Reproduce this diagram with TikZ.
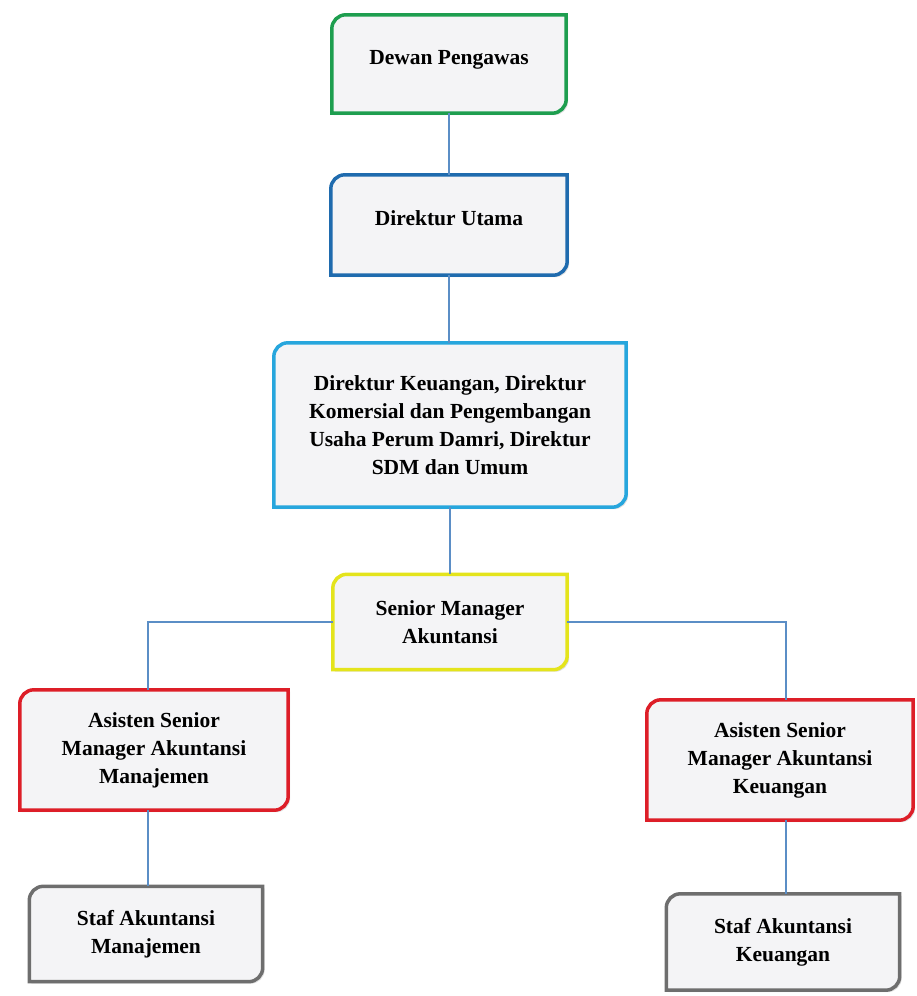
\documentclass[tikz,border=0pt]{standalone}
\usepackage{fontspec}
\setmainfont{Liberation Serif}
\usetikzlibrary{%
  calc,%
  backgrounds,%
  shadows%
}
\definecolor{boxfill}{HTML}{F4F4F6}
\definecolor{framegreen}{HTML}{1E9E4F}
\definecolor{frameblue}{HTML}{1F6BAE}
\definecolor{framecyan}{HTML}{27A6DD}
\definecolor{frameyellow}{HTML}{E4E41C}
\definecolor{framered}{HTML}{DD1E28}
\definecolor{framegray}{HTML}{6E6E6E}
\definecolor{linkblue}{HTML}{5B8EC6}
\tikzset{
  unit/.style 2 args={minimum width=#1,minimum height=#2,inner sep=4pt,
    align=center,font=\fontsize{21.5}{28}\selectfont\bfseries},
  lifted/.style={text depth=13pt},
  link/.style={line width=1.5pt,linkblue}
}
\newcommand{\orgframe}[2]{%
  \draw[line width=3.5pt,#2,fill=boxfill,
    drop shadow={opacity=0.25,shadow xshift=2pt,shadow yshift=-2pt}]
    ($(#1.north west)+(0,-14pt)$) arc[start angle=180,end angle=90,radius=14pt]
    -- (#1.north east) -- ($(#1.south east)+(0,14pt)$)
    arc[start angle=0,end angle=-90,radius=14pt] -- (#1.south west) -- cycle;}

\begin{document}
\begin{tikzpicture}[x=1pt,y=-1pt]
  \useasboundingbox (0,0) rectangle (917,996);
  \node[unit={234pt}{98pt},lifted] (dewan) at (449,64) {Dewan Pengawas};
  \node[unit={236pt}{100pt},lifted] (utama) at (449,225) {Direktur Utama};
  \node[unit={352pt}{164pt}] (direksi) at (450,425) {Direktur Keuangan, Direktur\\
    Komersial dan Pengembangan\\ Usaha Perum Damri, Direktur\\ SDM dan Umum};
  \node[unit={234pt}{95pt}] (senior) at (450,622) {Senior Manager\\ Akuntansi};
  \node[unit={268pt}{120pt}] (asmen) at (154,750) {Asisten Senior\\
    Manager Akuntansi\\ Manajemen};
  \node[unit={266pt}{120pt}] (askeu) at (780,760) {Asisten Senior\\
    Manager Akuntansi\\ Keuangan};
  \node[unit={233pt}{95pt}] (stafmen) at (146,934) {Staf Akuntansi\\ Manajemen};
  \node[unit={233pt}{96pt}] (stafkeu) at (783,942) {Staf Akuntansi\\ Keuangan};

  \draw[link] (dewan) -- (utama);
  \draw[link] (utama) -- (utama |- direksi.north);
  \draw[link] (direksi) -- (senior);
  \draw[link] (senior.west) -| ([xshift=-6pt]asmen.north);
  \draw[link] (senior.east) -| ([xshift=6pt]askeu.north);
  \draw[link] ([xshift=-6pt]asmen.south) -- ([xshift=-6pt]asmen.south |- stafmen.north);
  \draw[link] ([xshift=6pt]askeu.south) -- ([xshift=6pt]askeu.south |- stafkeu.north);

  \begin{scope}[on background layer]
    \foreach \n/\c in {dewan/framegreen,utama/frameblue,direksi/framecyan,
      senior/frameyellow,asmen/framered,askeu/framered,
      stafmen/framegray,stafkeu/framegray}
      \orgframe{\n}{\c};
  \end{scope}
\end{tikzpicture}
\end{document}
